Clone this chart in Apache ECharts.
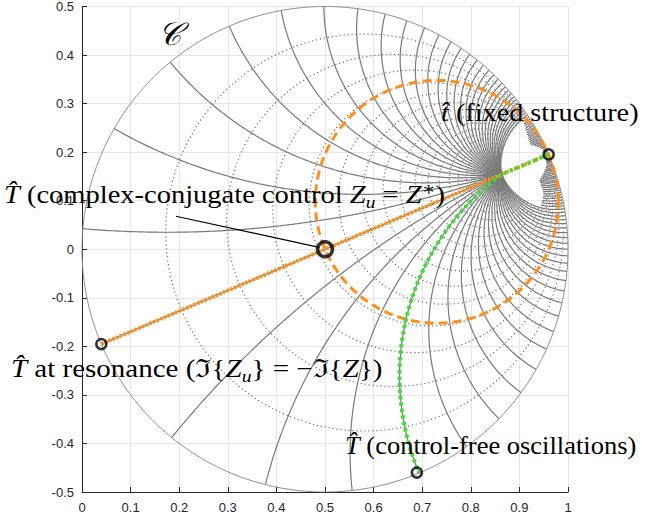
<!DOCTYPE html>
<html>
<head>
<meta charset="utf-8">
<script src="https://cdn.jsdelivr.net/npm/echarts@6.0.0/dist/echarts.min.js"></script>
<style>
  html, body { margin: 0; padding: 0; background: #fff; }
  #chart { width: 646px; height: 522px; }
</style>
</head>
<body>
<div id="chart"></div>
<script>
// axes
const xRange = [0, 1];
const yRange = [-0.5, 0.5];
const tickStep = 0.1;

// circle C and the point where the gray arcs meet
const circleCenter = [0.5, 0];
const circleRadius = 0.5;
const poleAngleDeg = 23;     // direction of the meeting point seen from the centre
const poleOffset = 0.79;     // its distance from the centre, in units of the radius

// gray grid: solid arcs every rayStepDeg, dotted circles at these radii
const rayStepDeg = 10 / 3;
const rayCount = 108;
const dottedRadii = [0.05, 0.1, 0.15, 0.2, 0.25, 0.3, 0.35, 0.4, 0.45, 0.5,
                     0.55, 0.6, 0.65, 0.7, 0.75, 0.8, 0.85, 0.9, 0.95];
// empty patch next to the meeting point (angle -> radius where the grid starts)
const blobAngles = [-88.5, -88, -70, -45, -20, 0, 15, 35, 55, 72, 74, 75];
const blobStart  = [0, 0.62, 0.64, 0.56, 0.8, 0.9, 0.88, 0.66, 0.74, 0.84, 0.84, 0];

// marked points
const tFixed = [0.9602, 0.1954];
const tConjugate = [0.5, 0];
const tResonance = [0.0398, -0.1954];
const tControlFree = [0.689, -0.46];
const greenRayDeg = -166.67;
const pointerFrom = [0.1934, 0.0679];
const pointerTo = [0.488, 0.004];

const s = poleOffset;
const al = poleAngleDeg * Math.PI / 180;
const ca = Math.cos(al), sa = Math.sin(al);

function toT(r, thDeg) {
  const th = thDeg * Math.PI / 180;
  const wx = r * Math.cos(th), wy = r * Math.sin(th);
  const nx = wx + s, ny = wy;
  const dx = 1 + s * wx, dy = s * wy;
  const den = dx * dx + dy * dy;
  const zx = (nx * dx + ny * dy) / den, zy = (ny * dx - nx * dy) / den;
  return [circleCenter[0] + circleRadius * (zx * ca - zy * sa),
          circleCenter[1] + circleRadius * (zx * sa + zy * ca)];
}
function toW(x, y) {
  const zx = (x - circleCenter[0]) / circleRadius, zy = (y - circleCenter[1]) / circleRadius;
  const rx = zx * ca + zy * sa, ry = -zx * sa + zy * ca;
  const nx = rx - s, ny = ry, dx = 1 - s * rx, dy = -s * ry;
  const den = dx * dx + dy * dy;
  const wx = (nx * dx + ny * dy) / den, wy = (ny * dx - nx * dy) / den;
  return [Math.hypot(wx, wy), Math.atan2(wy, wx) * 180 / Math.PI];
}
function startRadius(th) {
  if (th <= blobAngles[0] || th >= blobAngles[blobAngles.length - 1]) return 0;
  for (let i = 0; i < blobAngles.length - 1; i++) {
    if (th >= blobAngles[i] && th <= blobAngles[i + 1]) {
      const f = (th - blobAngles[i]) / (blobAngles[i + 1] - blobAngles[i]);
      return blobStart[i] + f * (blobStart[i + 1] - blobStart[i]);
    }
  }
  return 0;
}

// solid arcs
const rays = [];
for (let k = 0; k < rayCount; k++) {
  let th = 180 - k * rayStepDeg;
  if (th > 180) th -= 360;
  const r0 = startRadius(th);
  const pts = [];
  const n = 500;
  for (let j = 0; j <= n; j++) pts.push(toT(r0 + (1 - r0) * j / n, th));
  rays.push({ coords: pts });
}

// dotted circles, cut where they cross the empty patch
const dotted = [];
dottedRadii.forEach(function (r) {
  const a = (r + s) / (1 + s * r), b = (s - r) / (1 - s * r);
  const m = (a + b) / 2, q = Math.abs(a - b) / 2;
  let seg = [];
  const n = 1440;
  for (let j = 0; j <= n; j++) {
    const ph = 2 * Math.PI * j / n;
    const zx = m + q * Math.cos(ph), zy = q * Math.sin(ph);
    const x = circleCenter[0] + circleRadius * (zx * ca - zy * sa);
    const y = circleCenter[1] + circleRadius * (zx * sa + zy * ca);
    const w = toW(x, y);
    if (w[0] >= startRadius(w[1]) - 1e-6) {
      seg.push([x, y]);
    } else if (seg.length) {
      if (seg.length > 1) dotted.push({ coords: seg });
      seg = [];
    }
  }
  if (seg.length > 1) dotted.push({ coords: seg });
});

// circle C
const outer = [];
for (let j = 0; j <= 720; j++) {
  const ph = 2 * Math.PI * j / 720;
  outer.push([circleCenter[0] + circleRadius * Math.cos(ph), circleCenter[1] + circleRadius * Math.sin(ph)]);
}

// orange dashed circle on the diameter conjugate point -> fixed structure
const oc = [(tConjugate[0] + tFixed[0]) / 2, (tConjugate[1] + tFixed[1]) / 2];
const orad = Math.hypot(tFixed[0] - tConjugate[0], tFixed[1] - tConjugate[1]) / 2;
const orangeCircle = [];
for (let j = 0; j <= 360; j++) {
  const ph = 2 * Math.PI * j / 360;
  orangeCircle.push([oc[0] + orad * Math.cos(ph), oc[1] + orad * Math.sin(ph)]);
}

// green path: fixed structure -> meeting point -> control-free point
const green = [];
for (let j = 0; j <= 100; j++) green.push(toT(1 - j / 100, 0));
for (let j = 1; j <= 500; j++) green.push(toT(j / 500, greenRayDeg));

const chart = echarts.init(document.getElementById('chart'), null, { renderer: 'svg' });

const gray = '#7a7a7a';
const orange = '#ff8f1c';
const serif = '"Liberation Serif", "DejaVu Serif", serif';
const rich = {
  i: { fontStyle: 'italic', fontSize: 25, fontFamily: serif },
  s: { fontStyle: 'italic', fontSize: 17, fontFamily: serif, verticalAlign: 'bottom', lineHeight: 31 },
  p: { fontSize: 18, fontFamily: serif, verticalAlign: 'top', lineHeight: 31 }
};
function label(x, y, sx, text) {
  return {
    type: 'text', x: x, y: y, scaleX: sx, z: 100,
    style: { text: text, rich: rich, fill: '#000', font: '25px ' + serif, lineHeight: 31,
             align: 'left', verticalAlign: 'middle' }
  };
}
const axisFont = '"Liberation Sans", Arial, sans-serif';

chart.setOption({
  animation: false,
  grid: { left: 82, top: 6, width: 486, height: 486 },
  xAxis: {
    type: 'value', min: xRange[0], max: xRange[1], interval: tickStep,
    axisLine: { show: true, onZero: false, lineStyle: { color: '#262626', width: 1 } },
    axisTick: { show: true, inside: true, length: 5, lineStyle: { color: '#262626' } },
    axisLabel: { color: '#262626', fontSize: 13, fontFamily: axisFont, margin: 9,
                 formatter: v => String(+v.toFixed(1)) },
    splitLine: { show: true, lineStyle: { color: '#e6e6e6', width: 1 } }
  },
  yAxis: {
    type: 'value', min: yRange[0], max: yRange[1], interval: tickStep,
    axisLine: { show: true, onZero: false, lineStyle: { color: '#262626', width: 1 } },
    axisTick: { show: true, inside: true, length: 5, lineStyle: { color: '#262626' } },
    axisLabel: { color: '#262626', fontSize: 13, fontFamily: axisFont, margin: 8,
                 formatter: v => String(+v.toFixed(1)) },
    splitLine: { show: true, lineStyle: { color: '#e6e6e6', width: 1 } }
  },
  series: [
    { type: 'lines', coordinateSystem: 'cartesian2d', polyline: true, silent: true, z: 2,
      lineStyle: { color: '#6e6e6e', width: 1.2, type: [1.2, 2.8], opacity: 1 }, data: dotted },
    { type: 'lines', coordinateSystem: 'cartesian2d', polyline: true, silent: true, z: 3,
      lineStyle: { color: gray, width: 1.2, opacity: 1 }, data: rays },
    { type: 'lines', coordinateSystem: 'cartesian2d', polyline: true, silent: true, z: 3,
      lineStyle: { color: '#8c8c8c', width: 1, opacity: 1 }, data: [{ coords: outer }] },
    { type: 'lines', coordinateSystem: 'cartesian2d', polyline: true, silent: true, z: 4,
      lineStyle: { color: orange, width: 3, type: [9, 5], opacity: 1 }, data: [{ coords: orangeCircle }] },
    { type: 'lines', coordinateSystem: 'cartesian2d', polyline: true, silent: true, z: 5,
      lineStyle: { color: orange, width: 3.8, type: [2.5, 1.5], opacity: 1 },
      data: [{ coords: [tResonance, tConjugate, tFixed] }] },
    { type: 'lines', coordinateSystem: 'cartesian2d', polyline: true, silent: true, z: 6,
      lineStyle: { color: '#45dc3a', width: 4, type: [3.5, 3], opacity: 1 }, data: [{ coords: green }] },
    { type: 'lines', coordinateSystem: 'cartesian2d', polyline: true, silent: true, z: 7,
      lineStyle: { color: '#000', width: 1.2, opacity: 1 }, data: [{ coords: [pointerFrom, pointerTo] }] },
    { type: 'scatter', z: 8, symbol: 'circle', symbolSize: 10, silent: true,
      itemStyle: { color: 'rgba(0,0,0,0)', borderColor: '#000', borderWidth: 2.5 },
      data: [tFixed, tResonance, tControlFree] },
    { type: 'scatter', z: 8, symbol: 'circle', symbolSize: 15, silent: true,
      itemStyle: { color: 'rgba(0,0,0,0)', borderColor: '#000', borderWidth: 3.5 },
      data: [tConjugate] }
  ],
  graphic: [
    { type: 'text', x: 158, y: 18, z: 100,
      style: { text: '𝒞', font: 'italic 32px ' + serif, fill: '#000' } },
    label(4, 195, 1.14, '{i|T̂} (complex-conjugate control {i|Z}{s|u} = {i|Z}{p|∗})'),
    label(441, 113, 1.13, '{i|t̂} (fixed structure)'),
    label(11, 369, 1.16, '{i|T̂} at resonance (ℑ{{i|Z}{s|u}} = −ℑ{{i|Z}})'),
    label(345, 446, 1.06, '{i|T̂} (control-free oscillations)')
  ]
});
</script>
</body>
</html>
